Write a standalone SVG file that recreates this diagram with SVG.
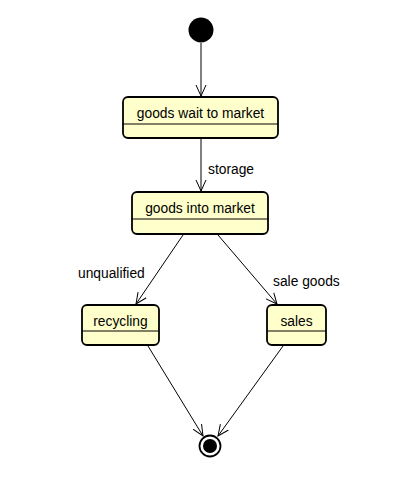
<svg xmlns="http://www.w3.org/2000/svg" width="405" height="504" viewBox="0 0 405 504">
<style>
.state{fill:#FFFFCC;stroke:#000;stroke-width:1.8}
.div{stroke:#000;stroke-width:1}
.lbl{font-family:"Liberation Sans",Arial,sans-serif;font-size:13.8px;fill:#000}
.edge{stroke:#000;stroke-width:1;fill:none;marker-end:url(#arr)}
</style>
<defs>
<marker id="arr" viewBox="0 0 12 12" refX="11" refY="6" markerWidth="12" markerHeight="12" markerUnits="userSpaceOnUse" orient="auto">
<path d="M0,1 L11,6 L0,11" fill="none" stroke="#000" stroke-width="1"/>
</marker>
</defs>
<rect width="405" height="504" fill="#fff"/>
<g id="connectors">
<line class="edge" x1="201" y1="43" x2="201" y2="96"/>
<line class="edge" x1="201" y1="138" x2="201" y2="191"/>
<line class="edge" x1="183" y1="235" x2="136" y2="304"/>
<line class="edge" x1="218" y1="235" x2="277" y2="304"/>
<line class="edge" x1="148" y1="346" x2="203" y2="436"/>
<line class="edge" x1="283" y1="346" x2="218" y2="436"/>
<text class="lbl" x="208" y="173.5">storage</text>
<text class="lbl" x="78" y="278">unqualified</text>
<text class="lbl" x="273" y="286">sale goods</text>
</g>
<g id="initial"><circle cx="201" cy="30" r="12.5" fill="#000"/></g>
<g id="wait">
<rect class="state" x="123" y="97" width="155" height="41" rx="5"/>
<line class="div" x1="123" y1="124" x2="278" y2="124"/>
<text class="lbl" x="200.5" y="117.5" text-anchor="middle">goods wait to market</text>
</g>
<g id="into">
<rect class="state" x="132" y="192" width="136" height="42" rx="5"/>
<line class="div" x1="132" y1="219" x2="268" y2="219"/>
<text class="lbl" x="200" y="212.5" text-anchor="middle">goods into market</text>
</g>
<g id="recycling">
<rect class="state" x="82" y="305" width="77" height="40" rx="5"/>
<line class="div" x1="82" y1="331" x2="159" y2="331"/>
<text class="lbl" x="120.5" y="325.5" text-anchor="middle">recycling</text>
</g>
<g id="sales">
<rect class="state" x="267" y="305" width="59" height="40" rx="5"/>
<line class="div" x1="267" y1="331" x2="326" y2="331"/>
<text class="lbl" x="296.5" y="325.5" text-anchor="middle">sales</text>
</g>
<g id="final">
<circle cx="210" cy="446" r="10.5" fill="#fff" stroke="#000" stroke-width="1.8"/>
<circle cx="210" cy="446" r="7" fill="#000"/>
</g>
</svg>
